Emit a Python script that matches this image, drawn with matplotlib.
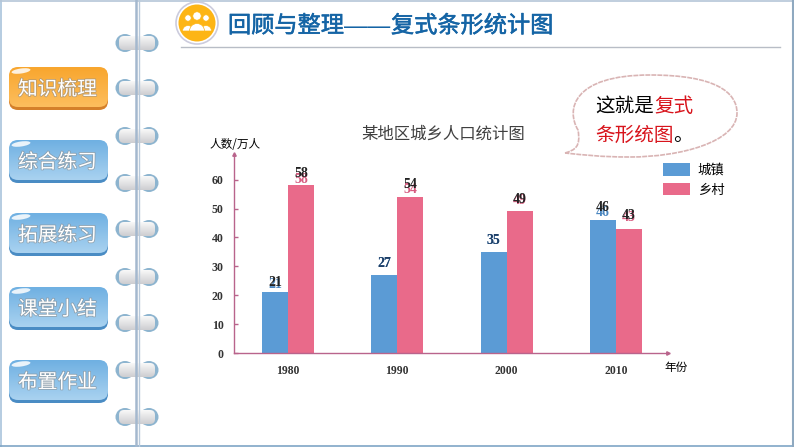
import numpy as np
import matplotlib
matplotlib.use('Agg')
import matplotlib.pyplot as plt
import matplotlib.patheffects as pe
from matplotlib.patches import Circle, Ellipse, FancyBboxPatch, PathPatch, Wedge
from matplotlib.path import Path

plt.rcParams['font.family'] = ['Noto Sans CJK SC', 'DejaVu Sans']

years = ['1980', '1990', '2000', '2010']
chengzhen = [21, 27, 35, 46]
xiangcun = [58, 54, 49, 43]
yticks = [0, 10, 20, 30, 40, 50, 60]
menu = ['知识梳理', '综合练习', '拓展练习', '课堂小结', '布置作业']

W, H = 794, 447
SERIF = 'Liberation Serif'
BLUE = '#5B9BD5'
PINK = '#E96A8A'
AXIS = '#B9648C'
HEAD = '#1464A5'

fig = plt.figure(figsize=(W / 100, H / 100), dpi=100)

# page decoration, in pixel coordinates
bg = fig.add_axes([0, 0, 1, 1])
bg.set_xlim(0, W)
bg.set_ylim(H, 0)
bg.axis('off')


def gradient_box(x, y, w, h, top, bottom, rad, z=2):
    box = FancyBboxPatch((x + rad, y + rad), w - 2 * rad, h - 2 * rad,
                         boxstyle=f'round,pad={rad},rounding_size={rad}',
                         fc='none', ec='none', zorder=z)
    bg.add_patch(box)
    c1 = np.array(matplotlib.colors.to_rgb(top))
    c2 = np.array(matplotlib.colors.to_rgb(bottom))
    t = np.linspace(0, 1, 64)[:, None, None]
    img = (c1[None, None, :] * (1 - t) + c2[None, None, :] * t)
    im = bg.imshow(img, extent=[x, x + w, y + h, y], aspect='auto', zorder=z)
    im.set_clip_path(box)


# frame lines
bg.plot([0.5, 0.5], [0, H], color='#A9C3DC', lw=1.2, zorder=1)
bg.plot([0, W], [0.5, 0.5], color='#B5C6D8', lw=1.2, zorder=1)
bg.plot([0, W], [446, 446], color='#7FA6C6', lw=1.2, zorder=1)
bg.plot([793, 793], [0, H], color='#8FA9C0', lw=1.5, zorder=1)

# buttons
btn_top = [67, 140, 213, 287, 360]
for i, (label, y) in enumerate(zip(menu, btn_top)):
    if i == 0:
        edge, c1, c2 = '#D5802A', '#F8A62E', '#FDBE5E'
    else:
        edge, c1, c2 = '#4A8CC4', '#6FB0E2', '#A9D2F0'
    gradient_box(9, y + 2, 99, 41, edge, edge, 9, z=2)
    gradient_box(9, y, 99, 40, c1, c2, 9, z=3)
    bg.add_patch(Ellipse((21, y + 4), 19, 5, angle=-8, fc='white', ec='none', alpha=0.85, zorder=4))
    bg.text(57.5, y + 22.5, label, color='white', fontsize=14.2, ha='center', va='center', zorder=5,
            path_effects=[pe.withStroke(linewidth=1.2, foreground='#8A8A8A', alpha=0.6)])

# spiral rings
for y in [43, 88, 136, 183, 229, 277, 323, 370, 417]:
    bg.add_patch(Ellipse((125, y), 19, 18, fc='#8DB4CF', ec='none', zorder=2))
    bg.add_patch(Ellipse((149, y), 19, 18, fc='#8DB4CF', ec='none', zorder=2))
    gradient_box(119, y - 7, 36, 14, '#F9F9F9', '#CDCDD0', 5, z=3)
bg.plot([135.5, 135.5], [0, H], color='#A4B8CE', lw=1.8, zorder=4)
bg.plot([138.5, 138.5], [0, H], color='#B9CADB', lw=1.0, zorder=4)

# heading
bg.add_patch(Circle((197, 23), 21, fc='white', ec='#CCCCDD', lw=1.2, zorder=2))
bg.add_patch(Circle((197, 23), 18.5, fc='#FDB515', ec='none', zorder=3))
for cx, r, body in [(188, 3.2, 5.5), (206, 3.2, 5.5), (197, 4.2, 7.5)]:
    bg.add_patch(Circle((cx, 18 if r < 4 else 16), r, fc='white', ec='#FDB515', lw=0.5, zorder=4))
    bg.add_patch(Wedge((cx, 31), body, 180, 360, fc='white', ec='#FDB515', lw=0.5, zorder=4))
bg.plot([181, 780], [46.5, 46.5], color='#B8BDC6', lw=1.0, zorder=2)
head_fx = [pe.withStroke(linewidth=0.4, foreground=HEAD)]
bg.text(228, 26, '回顾与整理', color=HEAD, fontsize=16.7, ha='left', va='center', zorder=5, path_effects=head_fx)
bg.text(344, 26, '——', color=HEAD, fontsize=16.7, family=['Liberation Sans'], ha='left', va='center', zorder=5)
bg.text(391, 26, '复式条形统计图', color=HEAD, fontsize=16.7, ha='left', va='center', zorder=5, path_effects=head_fx)

# speech bubble
verts = [(565, 153), (575, 150), (581, 147), (578, 130),
         (566, 110), (572, 75), (650, 75),
         (715, 75), (737, 92), (737, 113),
         (737, 142), (680, 157), (630, 157),
         (600, 157), (585, 155), (565, 153)]
codes = [Path.MOVETO] + [Path.CURVE4] * 15
bg.add_patch(PathPatch(Path(verts, codes), fc='white', ec='#D9B4B4', lw=1.2, ls=(0, (3, 0.6)), zorder=2))
bg.text(595, 106, '这就是', color='black', fontsize=14.1, ha='left', va='center', zorder=5)
bg.text(654, 106, '复式', color='#D8141C', fontsize=14.1, ha='left', va='center', zorder=5)
bg.text(595, 135, '条形统图', color='#D8141C', fontsize=14.1, ha='left', va='center', zorder=5)
bg.text(673, 135, '。', color='black', fontsize=14.1, ha='left', va='center', zorder=5)

bg.text(443, 134, '某地区城乡人口统计图', color='#404040', fontsize=11.8, ha='center', va='center')
bg.text(210, 144, '人数/万人', color='black', fontsize=8.4, ha='left', va='center')
bg.text(664, 367, '年份', color='black', fontsize=8.4, ha='left', va='center')

# chart axes, placed on the pixels of the reference
left, right, bottom, top = 233.5, 668, 353, 154
ax = fig.add_axes([left / W, 1 - bottom / H, (right - left) / W, (bottom - top) / H])
ax.patch.set_alpha(0)

x = np.arange(len(years))
bar_w = 0.238
ax.bar(x - bar_w / 2, chengzhen, bar_w, color=BLUE, label='城镇', zorder=2)
ax.bar(x + bar_w / 2, xiangcun, bar_w, color=PINK, label='乡村', zorder=2)
ax.set_xlim(-0.4986, 3.477)
ax.set_ylim(0, 199 / 2.89)

ax.set_xticks(x)
ax.set_xticklabels(years, fontfamily=SERIF, fontweight='bold', fontsize=8.4, color='#333333')
ax.set_yticks(yticks)
ax.set_yticklabels([str(v) for v in yticks], fontfamily=SERIF, fontweight='bold', fontsize=8.6, color='#333333')
ax.tick_params(axis='x', length=0, pad=9)
ax.tick_params(axis='y', direction='in', length=3, width=1, color=AXIS, pad=7)

for s in ['top', 'right']:
    ax.spines[s].set_visible(False)
for s in ['left', 'bottom']:
    ax.spines[s].set_color(AXIS)
    ax.spines[s].set_linewidth(1.0)
ax.plot(1, 0, '>', color=AXIS, ms=2.5, transform=ax.transAxes, clip_on=False)
ax.plot(0, 1, '^', color=AXIS, ms=2.5, transform=ax.transAxes, clip_on=False)

# the reference has each value twice: coloured, with a black copy shifted up
blue_gap = [8, 11, 11, 8]
blue_shift = [2, 0, 0, 5]
pink_gap = [6, 7, 11, 11]
pink_shift = [6, 5, 1, 2]
for i in x:
    for dx, val, col, gap, shift in [(-bar_w / 2, chengzhen[i], '#4A86C0', blue_gap[i], blue_shift[i]),
                                     (bar_w / 2, xiangcun[i], '#D65C80', pink_gap[i], pink_shift[i])]:
        ax.annotate(str(val), (i + dx, val), xytext=(0, gap * 0.72), textcoords='offset points',
                    ha='center', va='center', fontfamily=SERIF, fontweight='bold', fontsize=10, color=col, zorder=3)
        ax.annotate(str(val), (i + dx, val), xytext=(0, (gap + shift) * 0.72), textcoords='offset points',
                    ha='center', va='center', fontfamily=SERIF, fontweight='bold', fontsize=10,
                    color='#222222' if shift else '#1F3F66', zorder=4)

ax.legend(loc='upper left', bbox_to_anchor=(659 / W, 1 - 159 / H), bbox_transform=fig.transFigure,
          frameon=False, fontsize=9.6, handlelength=2.0, handleheight=1.1, handletextpad=0.6,
          labelspacing=0.42, borderpad=0.3, borderaxespad=0)

fig.savefig('out.png', dpi=100)
